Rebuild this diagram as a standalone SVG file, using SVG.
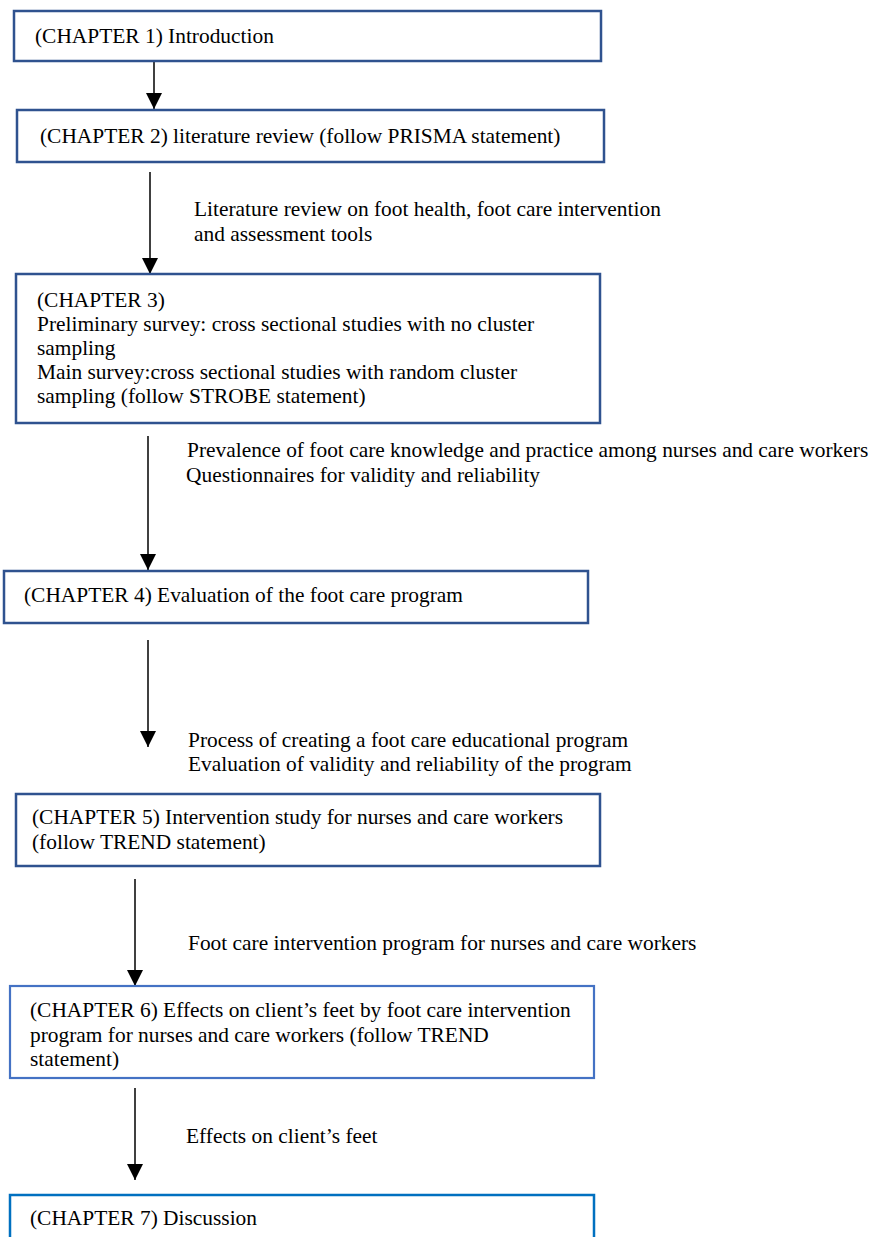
<svg xmlns="http://www.w3.org/2000/svg" width="870" height="1237" viewBox="0 0 870 1237">
  <style>
    .box { fill: #fff; stroke: #2F528F; stroke-width: 2.5; }
    .box6 { fill: #fff; stroke: #4472C4; stroke-width: 2.2; }
    .box7 { fill: #fff; stroke: #0070C0; stroke-width: 2.5; }
    .conn { stroke: #000; stroke-width: 1.5; fill: none; marker-end: url(#arrow); }
  </style>
  <defs>
    <marker id="arrow" viewBox="0 0 16 16" refX="16" refY="8" markerWidth="16" markerHeight="16" markerUnits="userSpaceOnUse" orient="auto">
      <path d="M0,0 L16,8 L0,16 Z" fill="#000"/>
    </marker>
  </defs>
  <rect width="870" height="1237" fill="#fff"/>

  <g id="connectors">
    <line class="conn" x1="154" y1="61" x2="154" y2="109"/>
    <line class="conn" x1="150" y1="172" x2="150" y2="274"/>
    <line class="conn" x1="148" y1="436" x2="148" y2="570"/>
    <line class="conn" x1="148" y1="640" x2="148" y2="747"/>
    <line class="conn" x1="135" y1="879" x2="135" y2="986"/>
    <line class="conn" x1="135" y1="1088" x2="135" y2="1180"/>
  </g>

  <g font-family="'Liberation Serif', 'Times New Roman', serif" font-size="21.4" fill="#000">
    <g id="labels">
      <text x="194" y="216">Literature review on foot health, foot care intervention</text>
      <text x="194" y="241">and assessment tools</text>
      <text x="187" y="457">Prevalence of foot care knowledge and practice among nurses and care workers</text>
      <text x="186" y="482">Questionnaires for validity and reliability</text>
      <text x="188" y="747">Process of creating a foot care educational program</text>
      <text x="188" y="771">Evaluation of validity and reliability of the program</text>
      <text x="188" y="950">Foot care intervention program for nurses and care workers</text>
      <text x="186" y="1143">Effects on client’s feet</text>
    </g>

    <g id="chapter1">
      <rect class="box" x="14" y="11" width="587" height="50"/>
      <text x="35" y="43">(CHAPTER 1) Introduction</text>
    </g>
    <g id="chapter2">
      <rect class="box" x="17" y="110" width="587" height="52"/>
      <text x="40" y="143">(CHAPTER 2) literature review (follow PRISMA statement)</text>
    </g>
    <g id="chapter3">
      <rect class="box" x="16" y="274" width="584" height="149"/>
      <text x="37" y="307">(CHAPTER 3)</text>
      <text x="37" y="331">Preliminary survey: cross sectional studies with no cluster</text>
      <text x="37" y="355">sampling</text>
      <text x="37" y="379">Main survey:cross sectional studies with random cluster</text>
      <text x="37" y="403">sampling (follow STROBE statement)</text>
    </g>
    <g id="chapter4">
      <rect class="box" x="4" y="571" width="584" height="52"/>
      <text x="24" y="602">(CHAPTER 4) Evaluation of the foot care program</text>
    </g>
    <g id="chapter5">
      <rect class="box" x="16" y="794" width="584" height="72"/>
      <text x="32" y="824">(CHAPTER 5) Intervention study for nurses and care workers</text>
      <text x="32" y="849">(follow TREND statement)</text>
    </g>
    <g id="chapter6">
      <rect class="box6" x="10" y="986" width="584" height="92"/>
      <text x="30" y="1017">(CHAPTER 6) Effects on client’s feet by foot care intervention</text>
      <text x="30" y="1042">program for nurses and care workers (follow TREND</text>
      <text x="30" y="1066">statement)</text>
    </g>
    <g id="chapter7">
      <rect class="box7" x="10" y="1195" width="584" height="80"/>
      <text x="30" y="1225">(CHAPTER 7) Discussion</text>
    </g>
  </g>
</svg>
